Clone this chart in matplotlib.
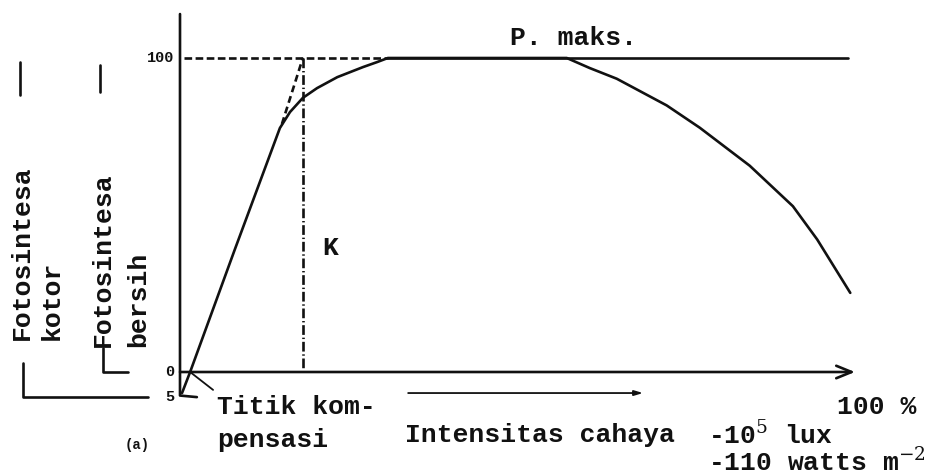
import matplotlib
matplotlib.use("Agg")
import matplotlib.pyplot as plt

plt.rcParams['lines.scale_dashes'] = False
plt.rcParams['mathtext.fontset'] = 'dejavuserif'

# Light response curve of photosynthesis (net), intensity in % of full sunlight
intensity = [0.3, 1.5, 8.1, 14.8, 16.3, 18.2, 20.3, 23.3, 25.2, 27.1, 29.2,
             30.8, 57.3, 60.7, 64.7, 72.1, 77.0, 84.4, 90.8, 94.4, 99.3]
photosynthesis = [-6.7, 0.0, 38.9, 77.7, 82.8, 87.3, 90.4, 93.9, 95.5, 97.1,
                  98.7, 100.0, 100.0, 96.8, 93.4, 84.9, 77.8, 65.7, 52.8,
                  42.2, 25.2]

p_max = 100.0          # maximum rate (P. maks.)
k_intensity = 18.2     # saturation point K
tangent_start = (15.1, 79.0)
gross_zero = -8.0      # zero of gross photosynthesis (respiration offset)
tick_values = [100, 0]
tick_labels = ["100", "0"]

FONT = "Liberation Mono"
INK = "#111111"
FS = 19

fig = plt.figure(figsize=(9.36, 4.76), dpi=100)
ax = fig.add_axes([180 / 936, 104 / 476, 675 / 936, 314 / 476])
ax.set_xlim(0, 100)
ax.set_ylim(0, 100)
ax.axis("off")

kw = dict(color=INK, clip_on=False, solid_capstyle="round")
tkw = dict(family=FONT, weight="bold", color=INK)

# axes
ax.plot([0, 0, 2.5], [114, gross_zero + 0.5, gross_zero], lw=1.9, **kw)
ax.annotate("", xy=(100, 0), xytext=(0, 0),
            arrowprops=dict(arrowstyle="->,head_length=1.1,head_width=0.45",
                            lw=1.9, color=INK, shrinkA=0, shrinkB=0),
            annotation_clip=False)

# tick labels
for v, lab in zip(tick_values, tick_labels):
    ax.text(-0.8, v, lab, ha="right", va="center", fontsize=11, **tkw)
ax.text(-0.8, gross_zero, "5", ha="right", va="center", fontsize=11, **tkw)

# response curve
ax.plot(intensity, photosynthesis, lw=1.9, solid_joinstyle="round", **kw)

# P. maks. level
ax.plot([30.8, 99], [p_max, p_max], lw=1.9, **kw)
ax.plot([0.6, 30.8], [p_max, p_max], lw=1.9, ls=(0, (5.5, 2.5)), color=INK,
        clip_on=False)
ax.text(48.9, 104, "P. maks.", ha="left", va="baseline", fontsize=FS, **tkw)

# initial slope and saturation point K
ax.plot([tangent_start[0], k_intensity], [tangent_start[1], p_max], lw=1.9,
        ls=(0, (5, 3)), color=INK, clip_on=False)
ax.plot([k_intensity, k_intensity], [p_max, 0], lw=1.9,
        ls=(0, (7, 2, 1, 2)), color=INK, clip_on=False)
ax.text(22.2, 39.5, "K", ha="center", va="center", fontsize=FS, **tkw)

# compensation point
ax.plot([1.5, 4.9], [0, -5.7], lw=1.3, **kw)
ax.text(5.5, -11.1, "Titik kom-", ha="left", va="center", fontsize=FS, **tkw)
ax.text(5.5, -21.7, "pensasi", ha="left", va="center", fontsize=FS, **tkw)
ax.text(-6.4, -23.2, "(a)", ha="center", va="center", fontsize=10, **tkw)

# light intensity axis caption
ax.annotate("", xy=(68.6, -6.7), xytext=(33.8, -6.7),
            arrowprops=dict(arrowstyle="-|>,head_length=0.5,head_width=0.15",
                            lw=1.3, color=INK, shrinkA=0, shrinkB=0),
            annotation_clip=False)
ax.text(33.3, -20.1, "Intensitas cahaya", ha="left", va="center",
        fontsize=FS, **tkw)
ax.text(78.2, -20.1, r"-10$^{5}$ lux", ha="left", va="center",
        fontsize=FS, **tkw)
ax.text(78.2, -28.7, r"-110 watts m$^{-2}$", ha="left", va="center",
        fontsize=FS, **tkw)
ax.text(97.3, -11.0, "100 %", ha="left", va="center", fontsize=FS, **tkw)

# scale labels for gross and net photosynthesis
ax.text(-23.4, 10.2, "Fotosintesa", rotation=90, ha="center", va="bottom",
        fontsize=FS, **tkw)
ax.text(-19.0, 10.2, "kotor", rotation=90, ha="center", va="bottom",
        fontsize=FS, **tkw)
ax.text(-11.4, 8.0, "Fotosintesa", rotation=90, ha="center", va="bottom",
        fontsize=FS, **tkw)
ax.text(-6.2, 8.0, "bersih", rotation=90, ha="center", va="bottom",
        fontsize=FS, **tkw)

# brackets marking each scale
ax.plot([-23.7, -23.7], [88.2, 98.7], lw=1.9, **kw)
ax.plot([-23.3, -23.3, -4.7], [2.9, gross_zero, gross_zero], lw=1.9, **kw)
ax.plot([-11.9, -11.9], [89.2, 97.8], lw=1.9, **kw)
ax.plot([-11.4, -11.4, -7.7], [7.6, 0, 0], lw=1.9, **kw)

fig.savefig("out.png", dpi=100, facecolor="white")
